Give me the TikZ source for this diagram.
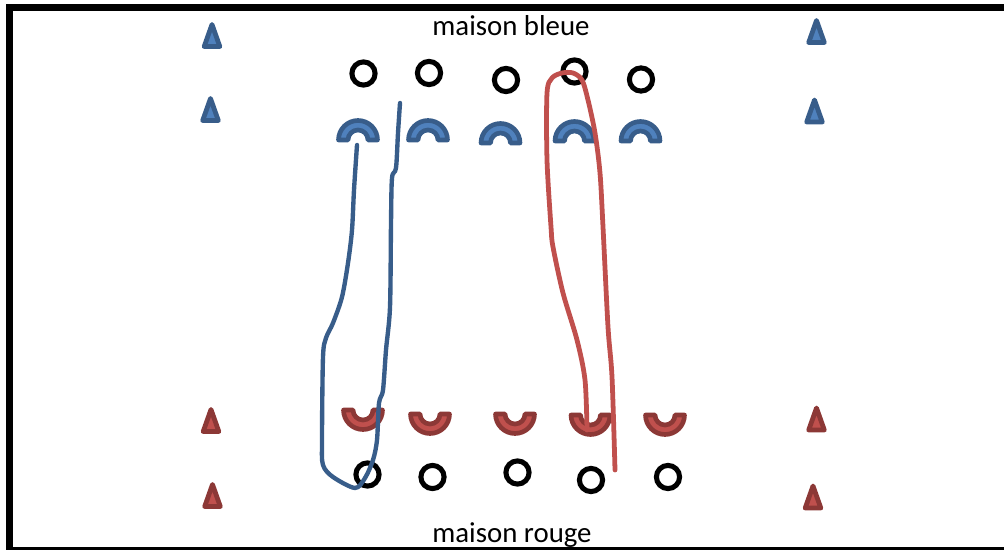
\documentclass[tikz,border=0pt]{standalone}
\usepackage{fontspec}
\setmainfont{Carlito}
\usepackage{tikz}
\definecolor{blueline}{RGB}{56,93,138}
\definecolor{bluefill}{RGB}{79,129,189}
\definecolor{redline}{RGB}{140,56,54}
\definecolor{redfill}{RGB}{192,80,77}
\tikzset{
  ring/.style={draw=black, circle, line width=3.6pt, minimum size=0.58cm, inner sep=0pt},
  blueprop/.style={fill=bluefill, draw=blueline, line width=3.3pt, line join=round},
  redprop/.style={fill=redfill, draw=redline, line width=3.3pt, line join=round},
  house/.style={anchor=base, font=\fontsize{20.5}{24}\selectfont},
  track/.style={line width=3.1pt, line cap=round, line join=round},
  cone/.pic={\path[pic actions, line width=3.4pt] (0,11) -- (7.8,-11) -- (-7.8,-11) -- cycle;},
  hoopup/.pic={\path[pic actions] (-19.5,0) arc (180:0:19.5) -- (10,0) arc (0:180:10) -- cycle;},
  hoopdown/.pic={\path[pic actions] (-19.5,0) arc (180:360:19.5) -- (10,0) arc (360:180:10) -- cycle;}
}

\begin{document}
\begin{tikzpicture}[x=0.025cm, y=0.025cm]
    \useasboundingbox (0,0) rectangle (1004,-550);
    \draw[line width=4.3pt] (9.5,-7.5) rectangle (1007,-550.5);
    \node[house] (bleue) at (511,-36) {maison bleue};
    \node[house] (rouge) at (512,-542) {maison rouge};
    % cones
    \pic[blueprop] (bl1) at (212,-35.5) {cone};
    \pic[blueprop] (bl2) at (210.5,-109.5) {cone};
    \pic[blueprop] (br1) at (816.5,-31.5) {cone};
    \pic[blueprop] (br2) at (814.5,-111) {cone};
    \pic[redprop] (rl1) at (211,-420.5) {cone};
    \pic[redprop] (rl2) at (212.5,-495.5) {cone};
    \pic[redprop] (rr1) at (816.5,-419) {cone};
    \pic[redprop] (rr2) at (813,-497) {cone};
    % top row
    \node[ring] (t1) at (363.5,-73.5) {};
    \node[ring] (t2) at (429,-73) {};
    \node[ring] (t3) at (506,-80) {};
    \node[ring] (t4) at (574.5,-71.5) {};
    \node[ring] (t5) at (641,-79.5) {};
    \pic[blueprop] (hb1) at (358,-140) {hoopup};
    \pic[blueprop] (hb2) at (428,-140) {hoopup};
    \pic[blueprop] (hb3) at (500.5,-143) {hoopup};
    \pic[blueprop] (hb4) at (574.5,-141) {hoopup};
    \pic[blueprop] (hb5) at (640.5,-141) {hoopup};
    % bottom row
    \pic[redprop] (hr1) at (363,-410) {hoopdown};
    \pic[redprop] (hr2) at (430,-414) {hoopdown};
    \pic[redprop] (hr3) at (515,-414) {hoopdown};
    \pic[redprop] (hr4) at (590.5,-415) {hoopdown};
    \pic[redprop] (hr5) at (665,-415) {hoopdown};
    \node[ring] (b1) at (367.5,-474.5) {};
    \node[ring] (b2) at (432.5,-477) {};
    \node[ring] (b3) at (517.5,-472.5) {};
    \node[ring] (b4) at (591,-480) {};
    \node[ring] (b5) at (668,-477) {};
    % runs
    \draw[track, blueline] plot[smooth, tension=0.5] coordinates {(400,-103) (398,-133) (396,-168) (392,-178) (391,-223) (390,-307) (386,-350) (383,-390) (379,-403) (377,-440) (373,-460) (365,-478) (355,-488) (333,-477) (323,-465) (322,-440) (323,-357) (326,-338) (333,-323) (342,-297) (348,-263) (352,-230) (354,-190) (357,-145)};
    \draw[track, redfill, line width=3.4pt] plot[smooth, tension=0.5] coordinates {(587,-430) (585,-380) (577,-340) (563,-293) (553,-247) (551,-227) (547,-160) (547,-93) (552,-78) (562,-73) (573,-73) (582,-80) (588,-100) (595,-133) (600,-173) (603,-227) (608,-327) (612,-377) (615,-470)};
  \end{tikzpicture}
\end{document}
